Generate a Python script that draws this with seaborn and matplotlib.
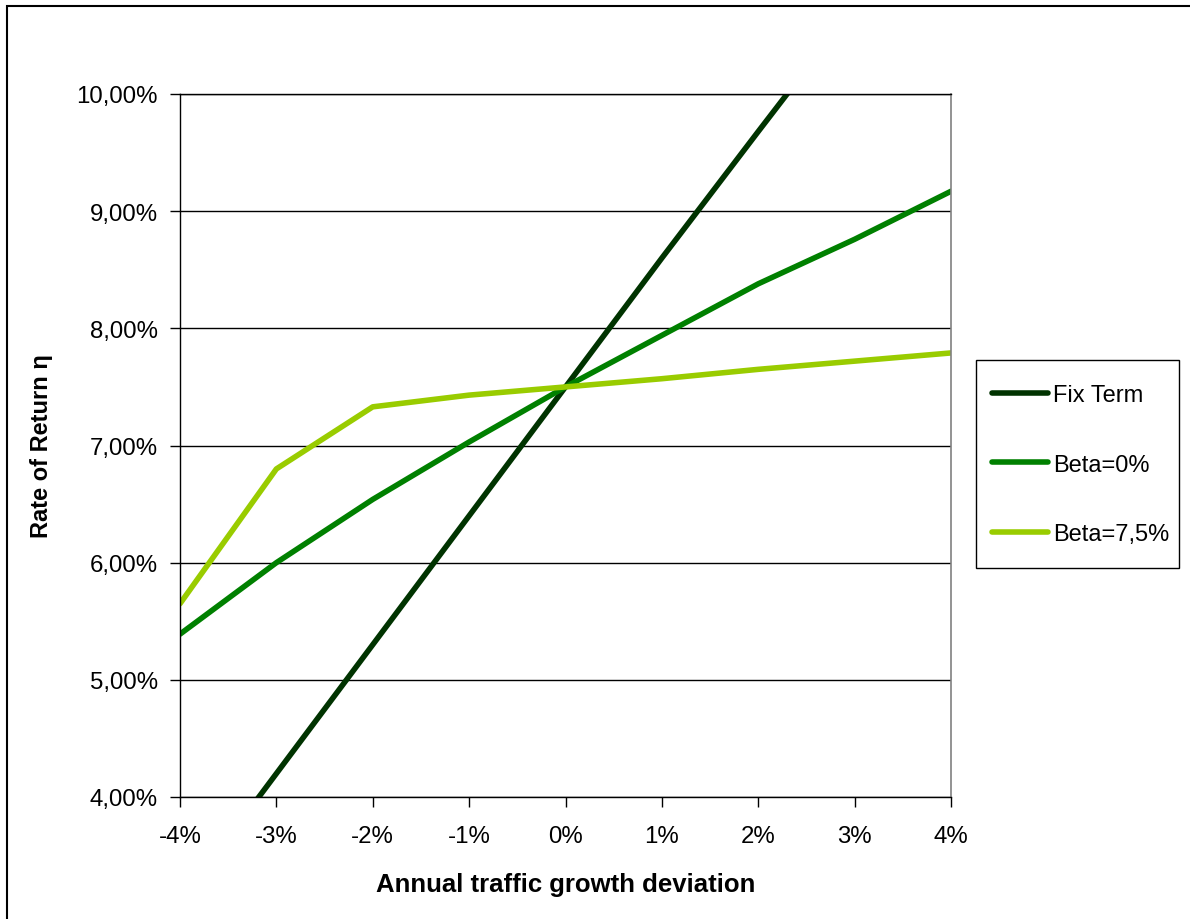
import pandas as pd
import seaborn as sns
import matplotlib
matplotlib.use('Agg')
import matplotlib.pyplot as plt
from matplotlib.ticker import FuncFormatter
from matplotlib.patches import Rectangle

# data (percent)
growth = [-4, -3, -2, -1, 0, 1, 2, 3, 4]
fix_term = [3.1, 4.2, 5.3, 6.4, 7.5, 8.6, 9.68, 10.75, 11.8]
beta_0 = [5.39, 6.0, 6.54, 7.03, 7.5, 7.94, 8.38, 8.76, 9.17]
beta_75 = [5.65, 6.8, 7.33, 7.43, 7.5, 7.57, 7.65, 7.72, 7.79]
series_names = ['Fix Term', 'Beta=0%', 'Beta=7,5%']
colours = ['#003300', '#008000', '#99CC00']

rows = []
for name, vals in zip(series_names, [fix_term, beta_0, beta_75]):
    for g, v in zip(growth, vals):
        rows.append({'growth': g, 'rate': v, 'series': name})
df = pd.DataFrame(rows)

sns.set_style('white')
plt.rcParams['font.family'] = ['Liberation Sans', 'DejaVu Sans']
plt.rcParams['text.color'] = 'black'
plt.rcParams['axes.labelcolor'] = 'black'
plt.rcParams['xtick.color'] = 'black'
plt.rcParams['ytick.color'] = 'black'

fig = plt.figure(figsize=(11.9, 9.2), dpi=100)
ax = fig.add_axes([180/1190, 1-798/920, 771/1190, 703/920])

sns.lineplot(data=df, x='growth', y='rate', hue='series', hue_order=series_names,
             palette=colours, linewidth=4, ax=ax, legend=False)

ax.set_xlim(-4, 4)
ax.set_ylim(4, 10)
ax.set_xticks(growth)
ax.set_yticks([4, 5, 6, 7, 8, 9, 10])
ax.xaxis.set_major_formatter(FuncFormatter(lambda v, p: '%d%%' % v))
ax.yaxis.set_major_formatter(FuncFormatter(lambda v, p: ('%.2f%%' % v).replace('.', ',')))
ax.tick_params(axis='both', labelsize=17.3, length=7, width=1, color='black')
ax.tick_params(axis='y', pad=9, left=True, direction='out')
ax.tick_params(axis='x', pad=13, bottom=True, direction='out')
ax.grid(axis='y', color='black', linewidth=1)
ax.set_axisbelow(True)

for s in ['left', 'bottom', 'top']:
    ax.spines[s].set_color('black')
    ax.spines[s].set_linewidth(1)
ax.spines['right'].set_color('#808080')
ax.spines['right'].set_linewidth(1.2)

ax.set_xlabel('Annual traffic growth deviation', fontsize=18.5, fontweight='bold', labelpad=18)
ax.set_ylabel('Rate of Return η', fontsize=17, fontweight='bold', labelpad=17)

# legend entries without frame, frame drawn separately
handles = [plt.Line2D([], [], color=c, linewidth=4, solid_capstyle='round') for c in colours]
leg = fig.legend(handles, series_names, loc='upper left',
                 bbox_to_anchor=(978/1190, 1-371/920), fontsize=17,
                 frameon=False, handlelength=2.37, handletextpad=0.2,
                 labelspacing=2.01, borderpad=0.6, borderaxespad=0)
fig.patches.append(Rectangle((976/1190, 1-569/920), 203/1190, 208/920,
                             transform=fig.transFigure, fill=False,
                             edgecolor='black', linewidth=1))

# outer chart border (only left and top visible in the crop)
fig.patches.append(Rectangle((7/1190, -0.1), 1.2, 1.1 - 7/920,
                             transform=fig.transFigure, fill=False,
                             edgecolor='black', linewidth=1.5))

fig.savefig('out.png', dpi=100, facecolor='white')
